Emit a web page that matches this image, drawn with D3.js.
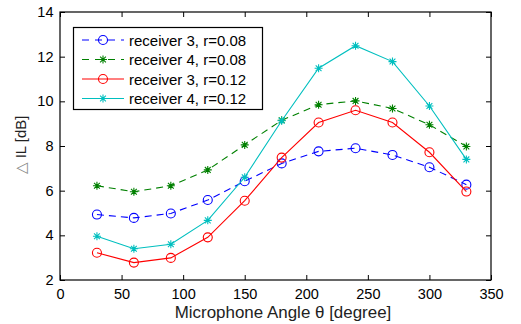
<!DOCTYPE html>
<html lang="en">

<head>
    <script src="https://d3js.org/d3.v7.min.js"></script>
    <style>
        body { margin: 0; background: #fff; }
        text { font-family: "Liberation Sans", Arial, sans-serif; }
    </style>
</head>

<body>
    <div id="chart"></div>

    <script>
        // data
        const angles = [30, 60, 90, 120, 150, 180, 210, 240, 270, 300, 330];
        const rec3r008 = [4.93, 4.78, 4.98, 5.58, 6.42, 7.22, 7.76, 7.9, 7.6, 7.05, 6.27];
        const rec4r008 = [6.22, 5.95, 6.22, 6.93, 8.05, 9.15, 9.85, 10.02, 9.68, 8.95, 7.98];
        const rec3r012 = [3.22, 2.78, 2.99, 3.91, 5.55, 7.48, 9.05, 9.6, 9.05, 7.72, 5.96];
        const rec4r012 = [3.96, 3.4, 3.6, 4.67, 6.6, 9.13, 11.48, 12.49, 11.78, 9.79, 7.4];
        const seriesNames = ["receiver 3, r=0.08", "receiver 4, r=0.08", "receiver 3, r=0.12", "receiver 4, r=0.12"];
        const xTicks = [0, 50, 100, 150, 200, 250, 300, 350];
        const yTicks = [2, 4, 6, 8, 10, 12, 14];

        const width = 521, height = 324;
        const mLeft = 60, mRight = 491, mTop = 12, mBottom = 280;

        const series = [
            { name: seriesNames[0], vals: rec3r008, color: "#0000ff", dash: "7,5", mark: "circle" },
            { name: seriesNames[1], vals: rec4r008, color: "#008000", dash: "7,5", mark: "star" },
            { name: seriesNames[2], vals: rec3r012, color: "#ff0000", dash: null, mark: "circle" },
            { name: seriesNames[3], vals: rec4r012, color: "#00bfbf", dash: null, mark: "star" }
        ];

        const x = d3.scaleLinear().domain([0, 350]).range([mLeft, mRight]);
        const y = d3.scaleLinear().domain([2, 14]).range([mBottom, mTop]);

        const svg = d3.select("#chart")
            .append("svg")
            .attr("width", width)
            .attr("height", height);

        // axes box with inward ticks on all four sides
        svg.append("g")
            .attr("transform", "translate(0," + mBottom + ")")
            .call(d3.axisBottom(x).tickValues(xTicks).tickSizeInner(-5).tickSizeOuter(0).tickPadding(9))
            .call(g => g.select(".domain").remove());
        svg.append("g")
            .attr("transform", "translate(0," + mTop + ")")
            .call(d3.axisTop(x).tickValues(xTicks).tickSizeInner(-5).tickSizeOuter(0).tickFormat(""))
            .call(g => g.select(".domain").remove());
        svg.append("g")
            .attr("transform", "translate(" + mLeft + ",0)")
            .call(d3.axisLeft(y).tickValues(yTicks).tickSizeInner(-5).tickSizeOuter(0).tickPadding(6.5))
            .call(g => g.select(".domain").remove());
        svg.append("g")
            .attr("transform", "translate(" + mRight + ",0)")
            .call(d3.axisRight(y).tickValues(yTicks).tickSizeInner(-5).tickSizeOuter(0).tickFormat(""))
            .call(g => g.select(".domain").remove());

        svg.selectAll(".tick text")
            .attr("font-size", 14.5)
            .attr("fill", "#000")
            .attr("font-family", "Liberation Sans, Arial, sans-serif");
        svg.selectAll(".tick line").attr("stroke", "#000");

        svg.append("rect")
            .attr("x", mLeft).attr("y", mTop)
            .attr("width", mRight - mLeft).attr("height", mBottom - mTop)
            .attr("fill", "none").attr("stroke", "#000").attr("stroke-width", 1.2);

        const line = d3.line()
            .x((d, i) => x(angles[i]))
            .y(d => y(d));

        // circle or asterisk (+ and x) marker
        function drawMarker(g, mark, color, cx, cy) {
            if (mark === "circle") {
                g.append("circle")
                    .attr("cx", cx).attr("cy", cy).attr("r", 4.5)
                    .attr("fill", "none").attr("stroke", color).attr("stroke-width", 1.1);
            } else {
                const s = 4;
                const d = 2.9;
                g.append("path")
                    .attr("d", "M" + (cx - s) + "," + cy + "H" + (cx + s) +
                        "M" + cx + "," + (cy - s) + "V" + (cy + s) +
                        "M" + (cx - d) + "," + (cy - d) + "L" + (cx + d) + "," + (cy + d) +
                        "M" + (cx - d) + "," + (cy + d) + "L" + (cx + d) + "," + (cy - d))
                    .attr("stroke", color).attr("stroke-width", 1.1).attr("fill", "none");
            }
        }

        series.forEach(s => {
            const g = svg.append("g");
            g.append("path")
                .datum(s.vals)
                .attr("d", line)
                .attr("fill", "none")
                .attr("stroke", s.color)
                .attr("stroke-width", 1.1)
                .attr("stroke-dasharray", s.dash);
            s.vals.forEach((v, i) => drawMarker(g, s.mark, s.color, x(angles[i]), y(v)));
        });

        // legend
        const lg = svg.append("g");
        lg.append("rect")
            .attr("x", 73.5).attr("y", 27.5)
            .attr("width", 189).attr("height", 82)
            .attr("fill", "#fff").attr("stroke", "#000").attr("stroke-width", 1.2);
        series.forEach((s, i) => {
            const ly = 40 + i * 19.5;
            lg.append("line")
                .attr("x1", 82).attr("x2", 124).attr("y1", ly).attr("y2", ly)
                .attr("stroke", s.color).attr("stroke-width", 1.1)
                .attr("stroke-dasharray", s.dash ? "7,6" : null);
            drawMarker(lg, s.mark, s.color, 103, ly);
            lg.append("text")
                .attr("x", 129).attr("y", ly + 5.5)
                .attr("font-size", 15)
                .text(s.name);
        });

        // axis titles
        svg.append("text")
            .attr("transform", "translate(283,318) scale(1.06,1)")
            .attr("text-anchor", "middle")
            .attr("font-size", 16)
            .attr("fill", "#222")
            .text("Microphone Angle θ [degree]");

        const yl = svg.append("text")
            .attr("transform", "translate(26,145) rotate(-90)")
            .attr("text-anchor", "middle")
            .attr("font-size", 15)
            .attr("fill", "#222");
        yl.append("tspan").attr("fill", "#888").text("△");
        yl.append("tspan").text(" IL [dB]");
    </script>
</body>

</html>
